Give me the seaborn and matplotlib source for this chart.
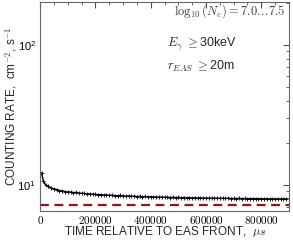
import numpy as np
import seaborn as sns
import matplotlib.pyplot as plt
from matplotlib.ticker import FuncFormatter, MultipleLocator

time_us = [5000, 12000, 20000, 30000, 40000, 50000, 60000, 70000, 80000, 90000,
           100000, 110000, 120000, 130000, 140000, 150000, 160000, 170000, 180000, 190000,
           200000, 210000, 220000, 230000, 240000, 250000, 260000, 270000, 280000, 290000,
           300000, 310000, 320000, 330000, 340000, 350000, 360000, 370000, 380000, 390000,
           400000, 410000, 420000, 430000, 440000, 450000, 460000, 470000, 480000, 490000,
           500000, 510000, 520000, 530000, 540000, 550000, 560000, 570000, 580000, 590000,
           600000, 610000, 620000, 630000, 640000, 650000, 660000, 670000, 680000, 690000,
           700000, 710000, 720000, 730000, 740000, 750000, 760000, 770000, 780000, 790000,
           800000, 810000, 820000, 830000, 840000, 850000, 860000, 870000, 880000, 890000]
rate = [12.2, 10.6, 10.0, 9.75, 9.5, 9.35, 9.25, 9.1, 9.05, 8.95,
        8.9, 8.88, 8.8, 8.82, 8.72, 8.7, 8.68, 8.6, 8.64, 8.56,
        8.55, 8.5, 8.52, 8.45, 8.47, 8.4, 8.42, 8.38, 8.36, 8.4,
        8.33, 8.3, 8.34, 8.28, 8.3, 8.25, 8.27, 8.22, 8.26, 8.2,
        8.22, 8.18, 8.2, 8.15, 8.19, 8.14, 8.16, 8.12, 8.15, 8.1,
        8.13, 8.09, 8.12, 8.07, 8.1, 8.06, 8.09, 8.05, 8.08, 8.04,
        8.06, 8.03, 8.05, 8.01, 8.04, 8.0, 8.03, 7.99, 8.02, 7.98,
        8.0, 7.97, 8.01, 7.96, 7.99, 7.95, 7.98, 7.96, 7.97, 7.94,
        7.97, 7.93, 7.96, 7.92, 7.95, 7.93, 7.94, 7.92, 7.95, 7.93]
rate_err = [0.3, 0.22, 0.2, 0.18, 0.17, 0.17, 0.16, 0.16, 0.16, 0.16,
            0.15, 0.15, 0.15, 0.15, 0.15, 0.15, 0.15, 0.15, 0.15, 0.15,
            0.15, 0.15, 0.15, 0.15, 0.15, 0.15, 0.15, 0.15, 0.15, 0.15,
            0.15, 0.15, 0.15, 0.15, 0.15, 0.15, 0.15, 0.15, 0.15, 0.15,
            0.15, 0.15, 0.15, 0.15, 0.15, 0.15, 0.15, 0.15, 0.15, 0.15,
            0.15, 0.15, 0.15, 0.15, 0.15, 0.15, 0.15, 0.15, 0.15, 0.15,
            0.15, 0.15, 0.15, 0.15, 0.15, 0.15, 0.15, 0.15, 0.15, 0.15,
            0.15, 0.15, 0.15, 0.15, 0.15, 0.15, 0.15, 0.15, 0.15, 0.15,
            0.15, 0.15, 0.15, 0.15, 0.15, 0.15, 0.15, 0.15, 0.15, 0.15]
background = 7.2

sns.set_style("white")
plt.rcParams['font.family'] = ['Liberation Sans', 'DejaVu Sans']
plt.rcParams['mathtext.fontset'] = 'cm'

fig = plt.figure(figsize=(2.93, 2.42), dpi=100)
ax = fig.add_axes([0.137, 0.128, 0.849, 0.864])

ax.errorbar(time_us, rate, yerr=rate_err, fmt='none', ecolor='0.55', elinewidth=0.6)
sns.lineplot(x=time_us, y=rate, ax=ax, color='k', marker='+', markersize=3.5,
             markeredgewidth=0.6, markeredgecolor='k', linewidth=1.0)
ax.axhline(background, color='#a01010', linestyle='--', linewidth=1.6, dashes=(4, 2.5))

ax.set_yscale('log')
ax.set_xlim(0, 900000)
ax.set_ylim(6.5, 203)
ax.xaxis.set_major_locator(MultipleLocator(200000))
ax.xaxis.set_minor_locator(MultipleLocator(50000))
ax.xaxis.set_major_formatter(FuncFormatter(lambda v, p: f'${int(v)}$'))

ax.tick_params(which='both', direction='in', top=True, right=True, colors='0.3',
               labelcolor='k', labelsize=8)
ax.tick_params(axis='x', pad=2)
ax.tick_params(axis='y', pad=3)
ax.tick_params(which='major', length=4)
ax.tick_params(which='minor', length=2)
for s in ax.spines.values():
    s.set_color('0.4')
    s.set_linewidth(0.8)

ax.set_xlabel(r'TIME RELATIVE TO EAS FRONT,  $\mu s$', fontsize=8.5, labelpad=-1)
ax.set_ylabel(r'COUNTING RATE,  cm$^{-2}$, s$^{-1}$', fontsize=8.5)
ax.yaxis.set_label_coords(-0.085, 0.5)

ax.text(0.985, 0.955, r'$\log_{10}(N_e)=7.0.\!.\!.\!7.5$', transform=ax.transAxes,
        ha='right', va='center', fontsize=9, color='0.25')
ax.text(0.51, 0.8, r'$E_\gamma$ $\geq$30keV', transform=ax.transAxes,
        ha='left', va='center', fontsize=9)
ax.text(0.51, 0.69, r'$r_{EAS}$ $\geq$20m', transform=ax.transAxes,
        ha='left', va='center', fontsize=9)

fig.savefig('out.png', dpi=100)
